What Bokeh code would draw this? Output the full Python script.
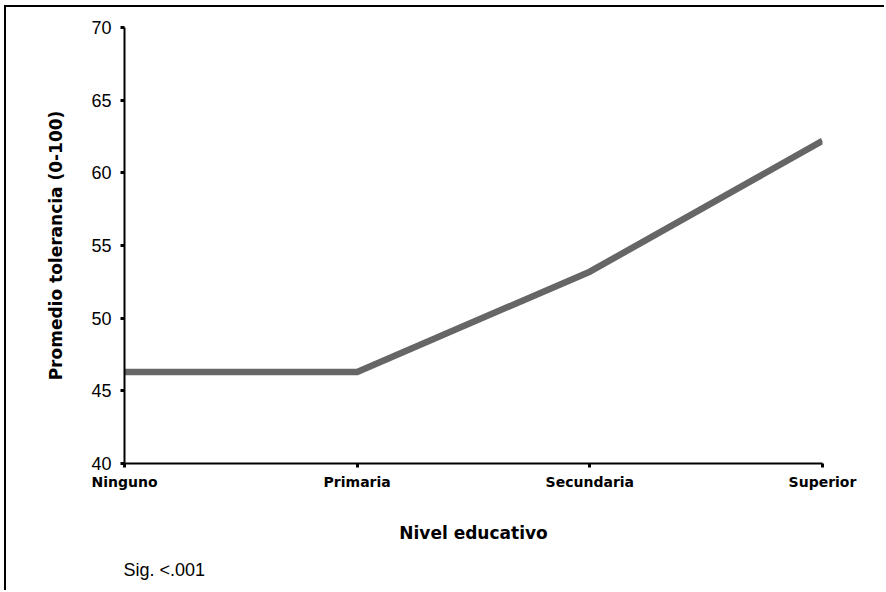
from bokeh.plotting import figure
from bokeh.models import Range1d, Title, FixedTicker
from bokeh.embed import file_html
from bokeh.resources import INLINE

categories = ["Ninguno", "Primaria", "Secundaria", "Superior"]
values = [46.3, 46.3, 53.2, 62.2]
y_ticks = [40, 45, 50, 55, 60, 65, 70]
note = "Sig. <.001"

xs = list(range(len(categories)))

p = figure(width=880, height=585, output_backend="svg", toolbar_location=None,
           x_range=Range1d(0, len(categories) - 1), y_range=Range1d(40, 70),
           min_border_left=118, min_border_right=64, min_border_top=20, min_border_bottom=129)
p.styles = {"border-top": "2px solid black", "border-left": "2px solid black",
            "margin-left": "4px", "margin-top": "5px"}
p.outline_line_color = None
p.xgrid.visible = False
p.ygrid.visible = False
p.background_fill_color = "white"
p.border_fill_color = "white"

p.line(xs, values, line_color="#666666", line_width=6.5)

p.xaxis.ticker = FixedTicker(ticks=xs)
p.xaxis.major_label_overrides = {i: c for i, c in enumerate(categories)}
p.yaxis.ticker = FixedTicker(ticks=y_ticks)

for ax in (p.xaxis[0], p.yaxis[0]):
    ax.axis_line_width = 2
    ax.axis_line_color = "black"
    ax.major_tick_line_width = 3
    ax.major_tick_out = 4
    ax.major_tick_in = 0
    ax.minor_tick_line_color = None
    ax.major_tick_line_color = "black"
    ax.axis_label_text_color = "black"
    ax.major_label_text_color = "black"

p.xaxis.major_label_text_font = "DejaVu Sans"
p.xaxis.major_label_text_font_style = "bold"
p.xaxis.major_label_text_font_size = "14px"
p.xaxis.major_label_standoff = 6
p.xaxis.axis_label = "Nivel educativo"
p.xaxis.axis_label_text_font = "DejaVu Sans"
p.xaxis.axis_label_text_font_style = "bold"
p.xaxis.axis_label_text_font_size = "17px"
p.xaxis.axis_label_standoff = 30

p.yaxis.major_label_text_font = "Liberation Sans"
p.yaxis.major_label_text_font_size = "18px"
p.yaxis.major_label_standoff = 9
p.yaxis.axis_label = "Promedio tolerancia (0-100)"
p.yaxis.axis_label_text_font = "DejaVu Sans"
p.yaxis.axis_label_text_font_style = "bold"
p.yaxis.axis_label_text_font_size = "17px"
p.yaxis.axis_label_standoff = 22

p.add_layout(Title(text=note, align="left", offset=-1, standoff=25,
                   text_font="Liberation Sans", text_font_size="18px",
                   text_font_style="normal", text_color="black"), "below")

open("out.html", "w").write(file_html(p, INLINE))
